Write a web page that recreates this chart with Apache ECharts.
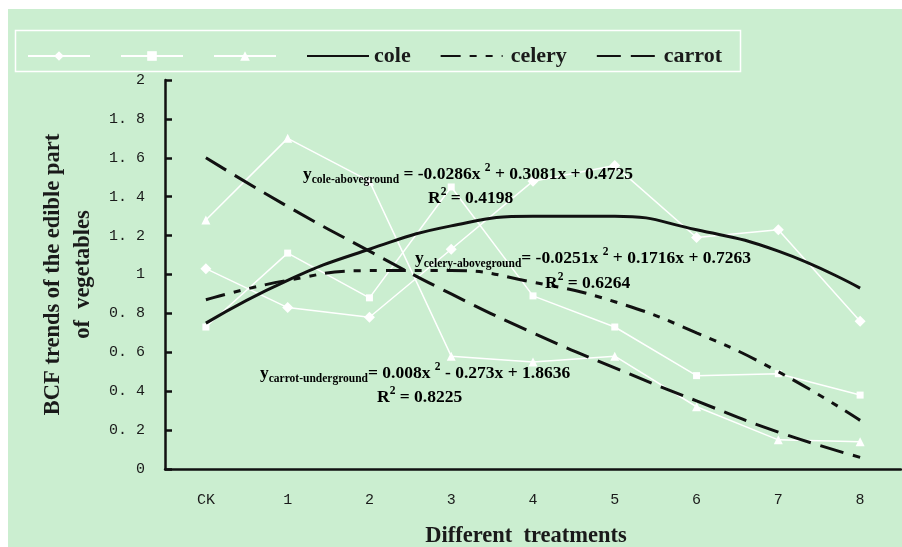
<!DOCTYPE html>
<html>
<head>
<meta charset="utf-8">
<script src="https://cdn.jsdelivr.net/npm/echarts@6/dist/echarts.min.js"></script>
<style>
html,body{margin:0;padding:0;background:#ffffff;overflow:hidden;}
#chart{width:902px;height:547px;}
</style>
</head>
<body>
<div id="chart"></div>
<script>
// categories and values
var categories = ['CK', '1', '2', '3', '4', '5', '6', '7', '8'];
var coleData = [1.03, 0.83, 0.78, 1.13, 1.48, 1.56, 1.19, 1.23, 0.76];
var celeryData = [0.73, 1.11, 0.88, 1.45, 0.89, 0.73, 0.48, 0.49, 0.38];
var carrotData = [1.28, 1.70, 1.48, 0.58, 0.55, 0.58, 0.32, 0.15, 0.14];
// trend curves (read at each treatment)
var coleTrend = [0.75, 0.97, 1.13, 1.25, 1.30, 1.30, 1.23, 1.12, 0.93];
var celeryTrend = [0.87, 0.97, 1.02, 1.02, 0.96, 0.86, 0.70, 0.50, 0.25];
var carrotTrend = [1.60, 1.35, 1.12, 0.90, 0.70, 0.52, 0.35, 0.19, 0.06];
var yTickLabels = ['0', '0. 2', '0. 4', '0. 6', '0. 8', '1', '1. 2', '1. 4', '1. 6', '1. 8', '2'];

var serif = '"Liberation Serif", "Times New Roman", serif';
var eqRich = {
    m: { fontFamily: serif, fontWeight: 'bold', fontSize: 17.5, color: '#1a1a1a', lineHeight: 24 },
    sub: { fontFamily: serif, fontWeight: 'bold', fontSize: 11.5, color: '#1a1a1a', lineHeight: 12, verticalAlign: 'bottom' },
    sup: { fontFamily: serif, fontWeight: 'bold', fontSize: 11.5, color: '#1a1a1a', lineHeight: 12, verticalAlign: 'top' }
};

function eqText(x, y, text) {
    return {
        type: 'text', left: x, top: y, z: 50,
        style: { text: text, rich: eqRich, verticalAlign: 'middle' }
    };
}

// legend entries for the trend lines: line only, no marker
function lineOnly(name, pad) {
    return { name: name, itemStyle: { opacity: 0 }, textStyle: { padding: pad } };
}

var myChart = echarts.init(document.getElementById('chart'));
var option = {
    backgroundColor: '#ffffff',
    animation: false,
    grid: { left: 165, top: 80, right: 1, bottom: 78, outerBoundsMode: 'none' },
    legend: {
        top: 40,
        left: 22,
        itemWidth: 62,
        itemHeight: 12,
        itemGap: 29,
        data: ['_cole', '_celery', '_carrot',
            lineOnly('cole', [0, 4, 0, 0]), lineOnly('celery', [0, 0, 0, 3]), lineOnly('carrot', [0, 0, 0, 0])],
        formatter: function (name) { return name.charAt(0) === '_' ? '' : name; },
        textStyle: { fontFamily: serif, fontWeight: 'bold', fontSize: 22, color: '#1a1a1a' }
    },
    graphic: [
        {
            type: 'rect', z: -10,
            shape: { x: 8, y: 9, width: 894, height: 538 },
            style: { fill: '#cbeed0' }
        },
        {
            type: 'rect', z: 40,
            shape: { x: 15.5, y: 30.5, width: 725, height: 41 },
            style: { fill: 'none', stroke: '#ffffff', lineWidth: 1.5 }
        },
        eqText(303, 162, '{m|y}{sub|cole-aboveground}{m| = -0.0286x }{sup|2}{m| + 0.3081x + 0.4725}'),
        eqText(428, 186, '{m|R}{sup|2}{m| = 0.4198}'),
        eqText(415, 246, '{m|y}{sub|celery-aboveground}{m|= -0.0251x }{sup|2}{m| + 0.1716x + 0.7263}'),
        eqText(545, 271, '{m|R}{sup|2}{m| = 0.6264}'),
        eqText(260, 361, '{m|y}{sub|carrot-underground}{m|= 0.008x }{sup|2}{m| - 0.273x + 1.8636}'),
        eqText(377, 385, '{m|R}{sup|2}{m| = 0.8225}')
    ],
    xAxis: {
        type: 'category',
        data: categories,
        name: 'Different  treatments',
        nameLocation: 'middle',
        nameGap: 56,
        nameTextStyle: { fontFamily: serif, fontWeight: 'bold', fontSize: 22.5, color: '#1a1a1a', padding: [0, 14, 0, 0] },
        axisLine: { lineStyle: { color: '#111', width: 2.5 } },
        axisTick: { inside: true, length: 7, lineStyle: { color: '#111', width: 2.5 } },
        axisLabel: { margin: 24, fontFamily: '"Liberation Mono", monospace', fontSize: 15, color: '#1a1a1a' },
        splitLine: { show: false }
    },
    yAxis: {
        type: 'value',
        min: 0,
        max: 2,
        interval: 0.2,
        name: 'BCF trends of the edible part\nof  vegetables',
        nameLocation: 'middle',
        nameGap: 67,
        nameTextStyle: { fontFamily: serif, fontWeight: 'bold', fontSize: 22.5, color: '#1a1a1a', lineHeight: 30 },
        axisLine: { show: true, lineStyle: { color: '#111', width: 2.5 } },
        axisTick: { show: true, inside: true, length: 7, lineStyle: { color: '#111', width: 2.5 } },
        axisLabel: {
            margin: 20,
            fontFamily: '"Liberation Mono", monospace', fontSize: 15, color: '#1a1a1a',
            formatter: function (v) { return yTickLabels[Math.round(v * 5)]; }
        },
        splitLine: { show: false }
    },
    series: [
        {
            name: '_cole', type: 'line', data: coleData,
            symbol: 'diamond', symbolSize: 11,
            itemStyle: { color: '#ffffff' },
            lineStyle: { color: '#ffffff', width: 1.5 }
        },
        {
            name: '_celery', type: 'line', data: celeryData,
            symbol: 'rect', symbolSize: 7,
            itemStyle: { color: '#ffffff' },
            lineStyle: { color: '#ffffff', width: 1.5 }
        },
        {
            name: '_carrot', type: 'line', data: carrotData,
            symbol: 'triangle', symbolSize: 9,
            itemStyle: { color: '#ffffff' },
            lineStyle: { color: '#ffffff', width: 1.5 }
        },
        {
            name: 'cole', type: 'line', data: coleTrend, smooth: true,
            symbol: 'none', z: 5,
            itemStyle: { color: '#111' },
            lineStyle: { color: '#111', width: 3 }
        },
        {
            name: 'celery', type: 'line', data: celeryTrend, smooth: true,
            symbol: 'none', z: 5,
            itemStyle: { color: '#111' },
            lineStyle: { color: '#111', width: 3, type: [20, 9, 7, 9, 7, 9] }
        },
        {
            name: 'carrot', type: 'line', data: carrotTrend, smooth: true,
            symbol: 'none', z: 5,
            itemStyle: { color: '#111' },
            lineStyle: { color: '#111', width: 3, type: [24, 10] }
        }
    ]
};
myChart.setOption(option);
window.onresize = myChart.resize;
</script>
</body>
</html>
